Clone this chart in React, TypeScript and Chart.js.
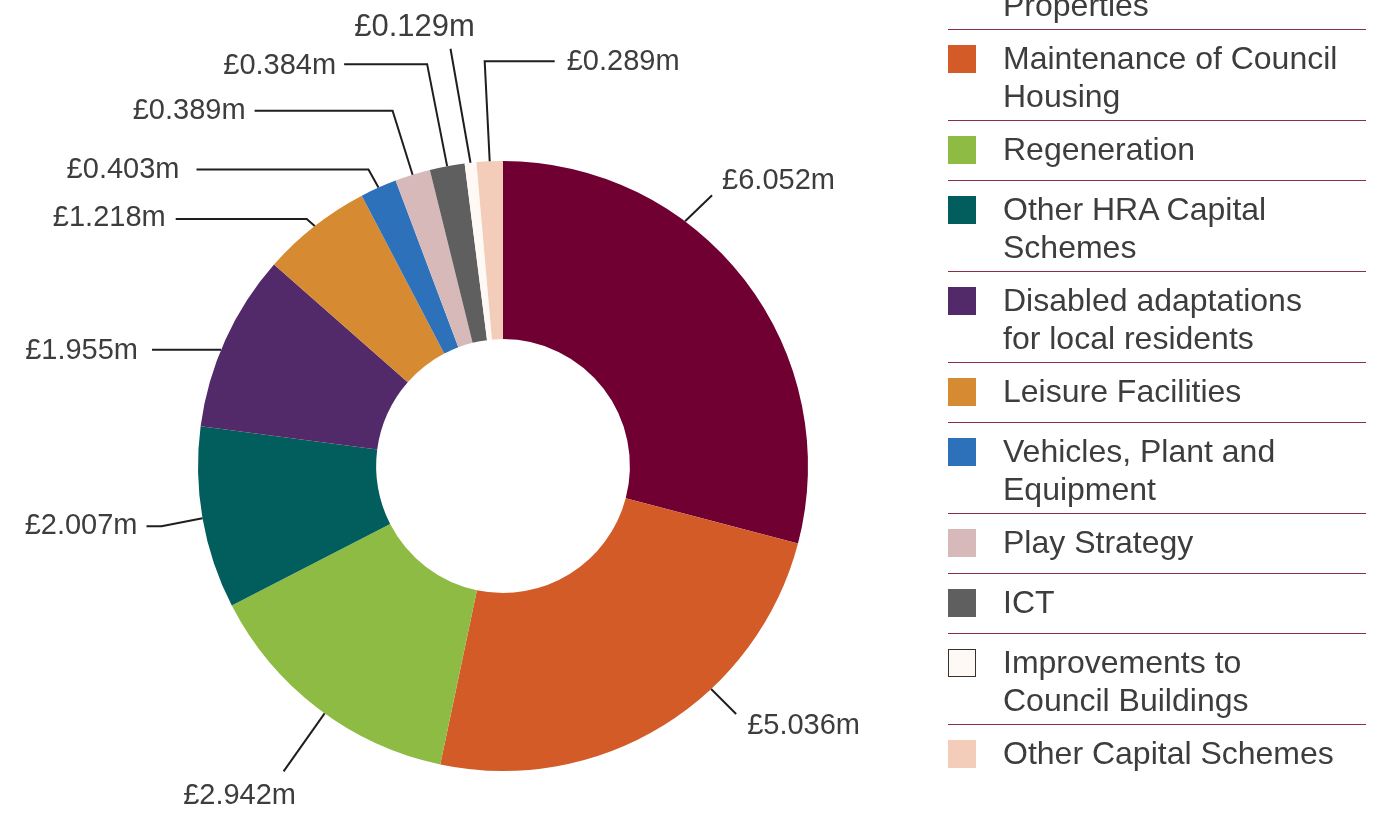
import React, { useEffect, useRef } from "react";
import { Chart, registerables } from "chart.js";
Chart.register(...registerables);

// ---- data ----
const categories: string[] = [
  "Improvements to Council\nProperties",
  "Maintenance of Council\nHousing",
  "Regeneration",
  "Other HRA Capital\nSchemes",
  "Disabled adaptations\nfor local residents",
  "Leisure Facilities",
  "Vehicles, Plant and\nEquipment",
  "Play Strategy",
  "ICT",
  "Improvements to\nCouncil Buildings",
  "Other Capital Schemes",
];
const values: number[] = [6.052, 5.036, 2.942, 2.007, 1.955, 1.218, 0.403, 0.389, 0.384, 0.129, 0.289];
const valueLabels: string[] = values.map((v) => "£" + v.toFixed(3) + "m");
const colors: string[] = [
  "#700032", "#D35B28", "#8EBB44", "#025E5C", "#522A69", "#D68A32",
  "#2D71BA", "#D7B9BA", "#5F5F5F", "#FFF9F6", "#F3CDB9",
];

// ---- callout layout (relative to each slice's anchor on the outer edge) ----
type Callout = { frac: number; path: number[][]; text: number[]; align: CanvasTextAlign; size?: number };
const calloutLayout: Callout[] = [
  { frac: 0.35, path: [[27, -26]], text: [10, -14], align: "left" },
  { frac: 0.37, path: [[25, 25]], text: [11, 12], align: "left" },
  { frac: 0.47, path: [[-41, 58]], text: [-44, 25], align: "center" },
  { frac: 0.5, path: [[-41, 8], [-56, 8]], text: [-9, 0], align: "right" },
  { frac: 0.44, path: [[-69, 0]], text: [-14, 1], align: "right" },
  { frac: 0.5, path: [[-8, -7], [-139, -7]], text: [-10, -1], align: "right" },
  { frac: 0.5, path: [[-10, -18], [-182, -18]], text: [-17, 0], align: "right" },
  { frac: 0.5, path: [[-20, -64], [-158, -64]], text: [-9, 0], align: "right" },
  { frac: 0.5, path: [[-20, -102], [-103, -102]], text: [-8, 2], align: "right" },
  { frac: 0.5, path: [[-20, -114]], text: [-36, -21], align: "center", size: 31 },
  { frac: 0.5, path: [[-5, -100], [65, -100]], text: [12, 1], align: "left" },
];

const FONT = "'Liberation Sans', Arial, Helvetica, sans-serif";

const calloutPlugin = {
  id: "callouts",
  afterDatasetsDraw(chart: any) {
    const ctx = chart.ctx as CanvasRenderingContext2D;
    const meta = chart.getDatasetMeta(0);
    meta.data.forEach((el: any, i: number) => {
      const L = calloutLayout[i];
      if (!L) return;
      const p = el.getProps(["x", "y", "startAngle", "endAngle", "outerRadius"], true);
      const a = p.startAngle + L.frac * (p.endAngle - p.startAngle);
      const ax = p.x + Math.cos(a) * p.outerRadius;
      const ay = p.y + Math.sin(a) * p.outerRadius;
      ctx.save();
      ctx.beginPath();
      ctx.moveTo(ax, ay);
      let ex = ax;
      let ey = ay;
      L.path.forEach(([dx, dy]) => {
        ex = ax + dx;
        ey = ay + dy;
        ctx.lineTo(ex, ey);
      });
      ctx.strokeStyle = "#1e1e1e";
      ctx.lineWidth = 2;
      ctx.lineJoin = "miter";
      ctx.stroke();
      ctx.font = `${L.size || 29}px ${FONT}`;
      ctx.fillStyle = "#3d3d3d";
      ctx.textAlign = L.align;
      ctx.textBaseline = "middle";
      ctx.fillText(valueLabels[i], ex + L.text[0], ey + L.text[1]);
      ctx.restore();
    });
  },
};

function Legend() {
  return (
    <div
      style={{
        position: "absolute",
        left: 948,
        top: -61,
        width: 418,
        fontFamily: FONT,
        color: "#3d3d3d",
      }}
    >
      {categories.map((c, i) => {
        const twoLine = c.includes("\n");
        const last = i === categories.length - 1;
        return (
          <div
            key={i}
            style={{
              position: "relative",
              boxSizing: "border-box",
              height: twoLine ? 91 : 60,
              borderBottom: last ? "none" : "1px solid #8a2a55",
            }}
          >
            <div
              style={{
                position: "absolute",
                left: 0,
                top: 15,
                width: 28,
                height: 28,
                boxSizing: "border-box",
                background: colors[i],
                border: i === 9 ? "1px solid #333" : "none",
              }}
            />
            <div
              style={{
                position: "absolute",
                left: 55,
                top: 9,
                fontSize: 32,
                lineHeight: "38px",
                whiteSpace: "pre",
              }}
            >
              {c}
            </div>
          </div>
        );
      })}
    </div>
  );
}

export default function App() {
  const ref = useRef<HTMLCanvasElement | null>(null);
  useEffect(() => {
    if (!ref.current) return;
    const chart = new Chart(ref.current, {
      type: "doughnut",
      data: {
        labels: categories.map((c) => c.replace("\n", " ")),
        datasets: [
          {
            data: values,
            backgroundColor: colors,
            borderWidth: 0,
          },
        ],
      },
      options: {
        responsive: false,
        animation: false,
        cutout: "41.6%",
        layout: { padding: { left: 198, right: 581, top: 161, bottom: 43 } },
        plugins: {
          legend: { display: false },
          tooltip: { enabled: false },
        },
      },
      plugins: [calloutPlugin],
    });
    return () => chart.destroy();
  }, []);
  return (
    <div
      style={{
        position: "fixed",
        left: 0,
        top: 0,
        width: 1389,
        height: 814,
        overflow: "hidden",
        background: "#fff",
      }}
    >
      <canvas ref={ref} width={1389} height={814} style={{ position: "absolute", left: 0, top: 0, width: 1389, height: 814 }} />
      <Legend />
    </div>
  );
}
